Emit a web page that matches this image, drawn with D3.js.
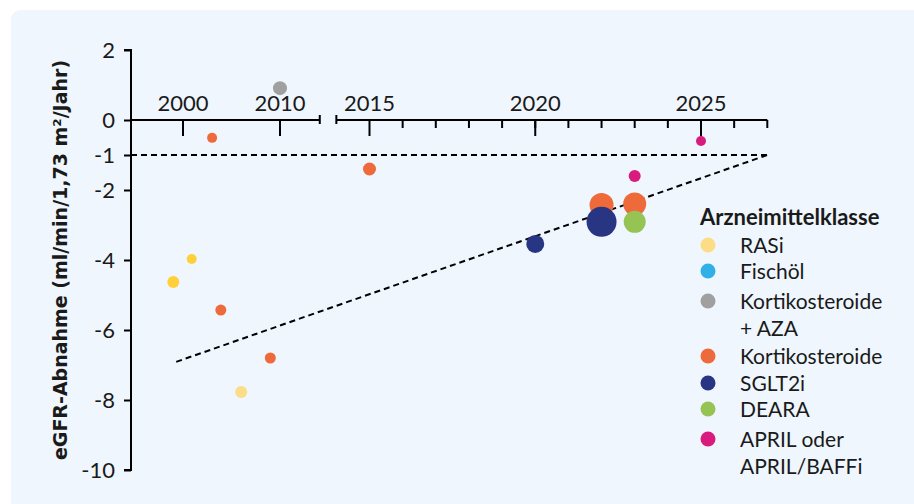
<!DOCTYPE html>
<html><head><meta charset="utf-8">
<script src="https://cdn.jsdelivr.net/npm/d3@7"></script>
<style>
body{margin:0;background:#fff;}
svg{display:block;font-family:Lato,"Open Sans",sans-serif;}
</style></head>
<body><svg id="chart" width="914" height="504"></svg>
<script>
// ---- data ----
const categories = ["RASi","Fischöl","Kortikosteroide\n+ AZA","Kortikosteroide","SGLT2i","DEARA","APRIL oder\nAPRIL/BAFFi"];
const categoryColors = ["#FDDC88","#2FB0E6","#A0A0A0","#EE6A3A","#283583","#95C455","#D81B7D"];
const pointYears  = [1999, 2000.9, 2003, 2003.9, 2006, 2009, 2010, 2015, 2020, 2022, 2022, 2023, 2023, 2023, 2025];
const pointValues = [-4.63, -3.97, -0.51, -5.43, -7.77, -6.8, 0.91, -1.4, -3.54, -2.43, -2.91, -2.4, -2.91, -1.6, -0.6];
const pointCats   = [0, 0, 3, 3, 0, 3, 2, 3, 4, 3, 4, 3, 5, 6, 6];
const pointShade  = ["#FFD03A","#FFD03A",null,null,null,null,null,null,null,null,null,null,null,null,null];
const pointSizes  = [6, 5, 5, 5.5, 6, 5.5, 7, 6.5, 9, 12, 15, 11.5, 11, 6, 5];
const yTicks = [2, 0, -1, -2, -4, -6, -8, -10];
const xMajorLeft = [2000, 2010];
const xMajorRight = [2015, 2020, 2025];
const xMinorRight = d3.range(2016, 2028);
const thresholdValue = -1;
const trendStart = [1999.3, -6.91];
const trendEnd = [2027, -1];

const svg = d3.select("#chart");
svg.append("rect").attr("x",11).attr("y",10).attr("width",930).attr("height",520).attr("rx",9).attr("fill","#EFF6FD");

const y = d3.scaleLinear().domain([2,-10]).range([50,470]);
const xL = d3.scaleLinear().domain([2000,2010]).range([183,280]);
const xR = d3.scaleLinear().domain([2015,2025]).range([369.5,701]);
const x = yr => yr < 2014 ? xL(yr) : xR(yr);
const x0 = 131, y0 = y(0);

// y axis
const ya = svg.append("g").attr("transform",`translate(${x0},0)`)
  .call(d3.axisLeft(y).tickValues(yTicks).tickFormat(d=>String(d)).tickSize(7).tickPadding(9));
ya.select(".domain").attr("stroke","#000").attr("stroke-width",2).attr("d",`M-7,${y(2)}H0V${y(-10)}H-7`);
ya.selectAll(".tick line").attr("stroke","#000").attr("stroke-width",2);
ya.selectAll(".tick text").attr("font-size",22).attr("font-family","Lato").attr("fill","#1a1a1a");

// x axis, broken
const xa = svg.append("g");
xa.append("line").attr("x1",x0).attr("x2",xL(2014.1)).attr("y1",y0).attr("y2",y0).attr("stroke","#000").attr("stroke-width",2);
xa.append("line").attr("x1",xL(2014.1)).attr("x2",xL(2014.1)).attr("y1",y0-5).attr("y2",y0+4).attr("stroke","#000").attr("stroke-width",2);
xa.append("line").attr("x1",xR(2014)).attr("x2",xR(2027)).attr("y1",y0).attr("y2",y0).attr("stroke","#000").attr("stroke-width",2);
xa.append("line").attr("x1",xR(2014)).attr("x2",xR(2014)).attr("y1",y0-5).attr("y2",y0+4).attr("stroke","#000").attr("stroke-width",2);
xMinorRight.forEach(yr=>{
  xa.append("line").attr("x1",xR(yr)).attr("x2",xR(yr)).attr("y1",y0).attr("y2",y0+8).attr("stroke","#000").attr("stroke-width",2);
});
xMajorLeft.concat(xMajorRight).forEach(yr=>{
  xa.append("line").attr("x1",x(yr)).attr("x2",x(yr)).attr("y1",y0).attr("y2",y0+16).attr("stroke","#000").attr("stroke-width",2);
  xa.append("text").attr("x",x(yr)).attr("y",y0-9).attr("text-anchor","middle").attr("font-size",22).attr("fill","#1a1a1a").text(yr);
});

// reference lines
svg.append("line").attr("x1",x0).attr("x2",xR(2027)).attr("y1",y(thresholdValue)).attr("y2",y(thresholdValue))
  .attr("stroke","#000").attr("stroke-width",2).attr("stroke-dasharray","6,4");
svg.append("line").attr("x1",x(trendStart[0])).attr("y1",y(trendStart[1])).attr("x2",x(trendEnd[0])).attr("y2",y(trendEnd[1]))
  .attr("stroke","#000").attr("stroke-width",2).attr("stroke-dasharray","6,4");

// points
const pts = pointYears.map((yr,i)=>({yr, v:pointValues[i], c:pointCats[i], r:pointSizes[i], shade:pointShade[i]}));
svg.append("g").selectAll("circle").data(pts).join("circle")
  .attr("cx",d=>x(d.yr)).attr("cy",d=>y(d.v)).attr("r",d=>d.r)
  .attr("fill",d=>d.shade || categoryColors[d.c]);

// y title
svg.append("text").attr("transform","translate(67,260) rotate(-90)").attr("text-anchor","middle")
  .attr("font-family","DejaVu Sans").attr("font-size",19).attr("font-weight","bold").attr("fill","#1a1a1a")
  .text("eGFR-Abnahme (ml/min/1,73 m²/Jahr)");

// legend
const lg = svg.append("g").attr("transform","translate(700,0)");
lg.append("text").attr("x",0).attr("y",225).attr("font-size",22).attr("font-weight","bold").attr("fill","#1a1a1a").text("Arzneimittelklasse");
const rowsY = [246, 272, 302, 357, 384, 410, 440];
categories.forEach((c,i)=>{
  lg.append("circle").attr("cx",8).attr("cy",rowsY[i]-1).attr("r",7.5).attr("fill",categoryColors[i]);
  c.split("\n").forEach((line,j)=>{
    lg.append("text").attr("x",40).attr("y",rowsY[i]+7+j*27).attr("font-size",21).attr("fill","#1a1a1a").text(line);
  });
});
</script></body></html>
